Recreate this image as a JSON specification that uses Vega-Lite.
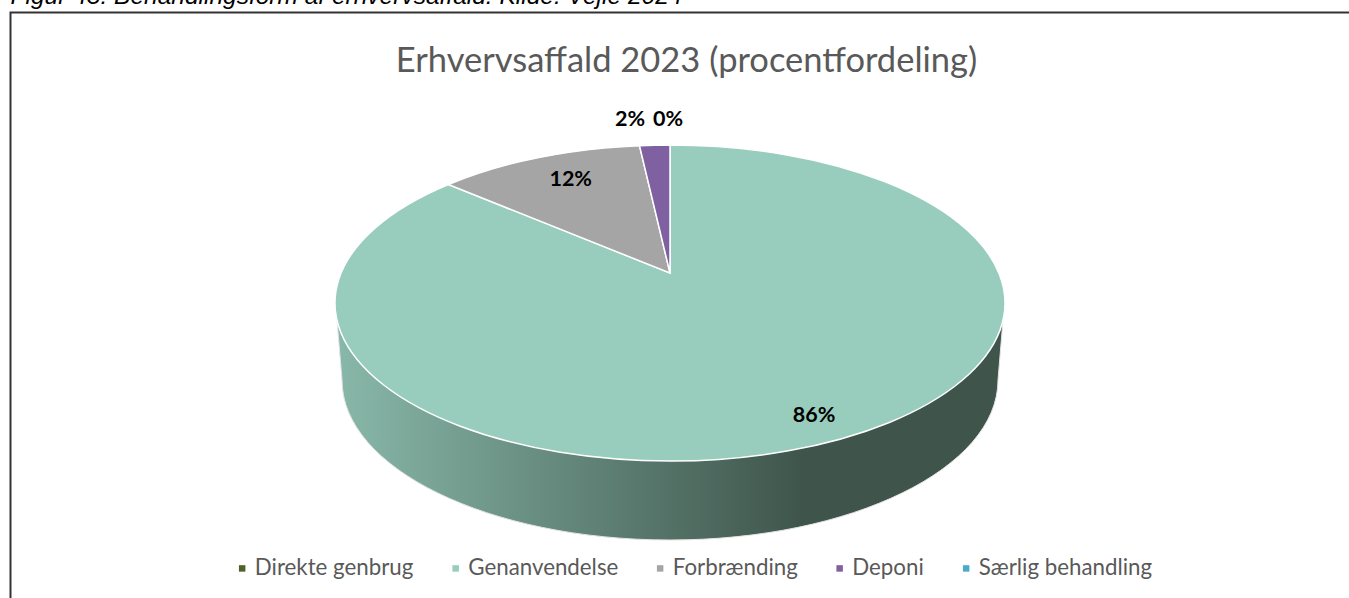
{
  "$schema": "https://vega.github.io/schema/vega-lite/v6.json",
  "width": 1349,
  "height": 598,
  "padding": 0,
  "autosize": {"type": "none"},
  "background": "white",
  "view": {"stroke": null},
  "title": {"text": "Erhvervsaffald 2023 (procentfordeling)", "font": "Lato", "fontSize": 34.5, "fontWeight": "normal", "color": "#595959", "anchor": "middle", "frame": "group", "offset": -95, "dx": 12},
  "datasets": {
    "slices": [
      {"category": "Direkte genbrug", "value": 0},
      {"category": "Genanvendelse", "value": 86},
      {"category": "Forbrænding", "value": 12},
      {"category": "Deponi", "value": 2},
      {"category": "Særlig behandling", "value": 0}
    ],
    "notes": [
      {"note": "Figur 43: Behandlingsform af erhvervsaffald. Kilde: Vejle 2024"}
    ]
  },
  "layer": [
    {
      "data": {"values": [{"part": "frame"}]},
      "mark": {"type": "point", "filled": false, "opacity": 1, "stroke": "#333333", "strokeWidth": 2, "shape": "M-664,299L-664,-286.5L675,-286.5", "size": 4},
      "encoding": {}
    },
    {
      "data": {"values": [{"part": "wall"}]},
      "mark": {"type": "point", "filled": true, "opacity": 1, "stroke": "#e4e4e4", "strokeWidth": 1, "size": 4,
        "shape": "M-337.5,21L-332.5,81A328,160 0 0 0 323.5,81L328.5,21Z",
        "fill": {"gradient": "linear", "x1": 0, "y1": 0, "x2": 1, "y2": 0, "stops": [
          {"offset": 0, "color": "#88b8a9"},
          {"offset": 0.7, "color": "#3f554c"},
          {"offset": 1, "color": "#3f554c"}
        ]}},
      "encoding": {}
    },
    {
      "data": {"name": "slices"},
      "transform": [{"filter": "datum.value > 0"}],
      "mark": {"type": "point", "filled": true, "opacity": 1, "stroke": "white", "strokeWidth": 1.5, "size": 4},
      "encoding": {
        "color": {
          "field": "category", "type": "nominal",
          "scale": {
            "domain": ["Direkte genbrug", "Genanvendelse", "Forbrænding", "Deponi", "Særlig behandling"],
            "range": ["#4f6228", "#98cdbd", "#a5a5a5", "#7f60a0", "#4bacc6"]
          },
          "legend": {
            "title": null, "orient": "none", "legendX": 231, "legendY": 557, "direction": "horizontal", "columns": 5,
            "symbolType": "square", "symbolSize": 42, "symbolStrokeWidth": 0, "symbolOpacity": 1,
            "labelFont": "Lato", "labelFontSize": 22.3, "labelColor": "#595959", "labelLimit": 300, "columnPadding": 30.5, "labelOffset": 1.5
          }
        },
        "shape": {
          "field": "category", "type": "nominal", "legend": null,
          "scale": {
            "domain": ["Genanvendelse", "Forbrænding", "Deponi"],
            "range": [
              "M-4.5,-26L-4.5,-154A335,158 0 1 1 -226.1,-114.5Z",
              "M-4.5,-26L-226.1,-114.5A335,158 0 0 1 -35,-153.34Z",
              "M-4.5,-26L-35,-153.34A335,158 0 0 1 -4.5,-154Z"
            ]
          }
        }
      }
    },
    {
      "data": {"name": "slices"},
      "transform": [
        {"filter": "datum.category !== 'Direkte genbrug'"},
        {"calculate": "datum.value + '%'", "as": "label"}
      ],
      "mark": {"type": "text", "font": "Lato", "fontSize": 21.5, "fontWeight": "bold", "color": "black", "align": "center", "baseline": "middle"},
      "encoding": {
        "text": {"field": "label"},
        "x": {"field": "value", "type": "quantitative", "axis": null,
          "scale": {"zero": false, "nice": false, "domain": [0, 2, 12, 86], "range": [668, 630, 570.7, 814]}},
        "y": {"field": "value", "type": "quantitative", "axis": null,
          "scale": {"zero": false, "nice": false, "domain": [0, 2, 12, 86], "range": [120, 120, 179.5, 416]}}
      }
    },
    {
      "data": {"name": "notes"},
      "mark": {"type": "text", "font": "Liberation Sans", "fontSize": 24.5, "fontStyle": "italic", "color": "#000000", "align": "center", "baseline": "alphabetic", "dx": -328, "dy": -295},
      "encoding": {
        "text": {"field": "note"}
      }
    }
  ],
  "resolve": {"scale": {"x": "independent", "y": "independent"}}
}
